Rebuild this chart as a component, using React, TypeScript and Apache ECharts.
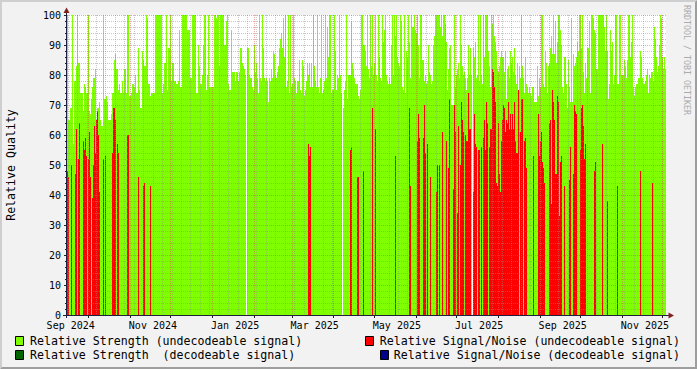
import React, { useEffect, useRef } from 'react';
import * as echarts from 'echarts';

// Relative Strength (undecodeable signal), one value per consolidated sample (null = no data)
const strengthUndecodeable: (number | null)[] = [
  100,65,65,69,69,100,57,78,78,83,
  100,84,84,74,74,74,68,77,76,74,
  74,100,68,67,72,76,79,79,82,65,
  69,69,71,65,63,63,100,72,72,73,
  71,65,65,65,67,74,74,85,87,82,
  82,75,77,74,74,78,74,82,82,74,
  100,100,73,73,74,77,77,76,80,74,
  74,89,75,69,69,88,85,83,83,100,
  99,77,77,73,74,74,74,74,100,100,
  100,100,100,100,100,74,77,84,84,100,
  75,89,89,100,78,84,84,78,78,77,
  77,78,95,76,76,100,100,100,100,100,
  95,95,95,79,79,100,100,100,100,74,
  74,90,83,77,77,80,90,100,100,75,
  80,100,76,76,76,
  76,76,100,100,99,100,100,83,100,100,
  100,100,90,90,98,100,77,75,75,95,
  81,81,81,78,81,81,78,81,89,89,
  84,83,82,80,null,89,89,80,79,79,
  76,75,90,81,84,79,74,100,79,78,
  100,89,79,78,79,78,71,79,78,82,
  79,88,87,80,79,81,83,89,92,94,
  89,99,86,100,76,78,100,74,100,76,
  77,100,79,78,74,78,78,85,75,74,
  85,83,73,75,78,84,80,84,76,84,
  76,100,83,78,76,100,76,74,79,100,
  74,75,78,100,79,96,86,100,100,74,
  75,75,100,88,75,80,79,100,80,74,
  null,69,75,78,100,72,80,80,80,98,
  84,82,79,77,77,77,73,72,75,100,
  100,90,90,88,83,100,82,79,100,83,
  100,80,84,100,80,78,100,86,79,78,
  100,91,95,100,80,78,77,79,77,90,
  100,80,100,93,100,86,84,83,100,98,
  76,75,100,74,88,86,100,91,79,100,
  96,96,100,95,94,100,90,79,100,100,
  85,85,78,80,77,78,90,81,80,77,
  78,90,93,100,100,100,100,100,96,100,
  93,100,100,97,91,75,82,89,90,70,
  70,70,100,76,80,82,84,79,100,90,
  83,80,81,79,75,79,90,80,89,80,
  null,89,86,91,79,80,100,78,100,80,
  77,100,86,100,100,100,88,83,76,100,
  97,100,93,91,88,82,81,83,86,88,
  86,86,81,88,72,82,83,79,88,84,
  86,81,89,80,77,84,74,83,79,100,
  83,79,74,86,77,76,74,76,74,73,
  76,76,71,71,71,83,73,79,76,100,
  100,77,76,88,84,74,83,84,89,93,
  87,100,87,98,84,91,100,100,95,90,
  76,74,86,86,77,69,85,76,71,99,
  71,87,83,84,86,91,88,100,100,89,
  100,81,74,84,79,89,89,98,74,100,
  100,99,95,94,82,82,100,100,100,100,
  100,100,96,88,100,88,72,77,95,88,
  91,77,80,100,100,77,77,100,100,80,
  80,80,85,83,79,85,100,100,86,91,
  100,76,73,76,77,77,79,79,88,86,
  79,77,77,78,80,82,74,80,79,81,
  81,78,96,92,86,81,83,90,100,99,
  86,82,86,82,
];

// Relative Signal/Noise (undecodeable signal): [sample index, value]; all other samples are 0
const snrUndecodeable: [number, number][] = [
  [0,48],[1,46],[4,50],[8,47],[9,62],[11,52],[12,64],[16,58],[17,55],[18,59],[19,53],[21,52],[22,61],
  [23,46],[25,39],[26,50],[27,63],[28,54],[29,65],[30,68],[31,60],[32,41],[36,52],[38,53],[45,54],
  [46,69],[47,69],[48,65],[50,57],[51,54],[60,60],[61,60],[71,46],[76,43],[77,44],[83,43],
  [241,57],[242,53],[243,56],[283,55],[284,56],[290,46],[291,46],[296,48],
  [305,69],[308,62],[328,53],[342,69],[343,43],[350,58],[351,67],[352,59],[356,59],[357,70],[358,54],
  [360,57],[363,46],[369,41],[370,50],[372,50],[375,61],[379,58],[381,49],[382,72],[386,42],[387,70],
  [388,61],[390,34],[391,63],[393,50],[394,71],[395,65],[396,61],[398,60],[399,58],[400,58],[401,74],
  [402,62],[403,62],[406,41],[407,67],[408,57],[409,56],[411,55],[412,55],[414,56],[416,59],[417,65],
  [418,55],[419,71],[420,64],[422,56],[423,62],[424,62],[425,82],[426,81],[427,76],[428,71],[429,44],
  [430,43],[431,64],[432,47],[433,41],[434,58],[435,65],[436,70],[437,69],[438,61],[439,65],[440,64],
  [441,71],[442,62],[443,67],[444,62],
  [445,67],[446,62],[447,71],[448,58],[449,54],[450,54],[451,75],[453,61],[454,72],[455,72],[457,58],
  [458,59],[459,49],[466,53],[471,67],[472,53],[473,58],[474,61],[475,51],[476,49],[477,44],[482,64],
  [483,65],[484,37],[485,75],[486,71],[487,65],[488,47],[489,47],[490,73],[491,71],[492,33],[493,51],
  [494,53],[497,43],[502,45],[503,56],[506,47],[507,70],[508,68],[509,67],[513,55],[514,69],[515,70],
  [516,63],[517,52],[518,57],[527,48],[528,51],[535,57],[540,38],[550,43],[573,48],[585,44],
];

// decodeable-signal series carry no data in this period
const strengthDecodeable: [number, number][] = [];
const snrDecodeable: [number, number][] = [];

const seriesNames = [
  'Relative Strength (undecodeable signal)',
  'Relative Strength  (decodeable signal)',
  'Relative Signal/Noise (undecodeable signal)',
  'Relative Signal/Noise (decodeable signal)',
];
const seriesColors = ['#7FFF00', '#006400', '#FF0000', '#00008B'];

// time base (days since 2024-09-01)
const DAY_MS = 86400000;
const AXIS_EPOCH = Date.UTC(2024, 8, 1);
const toDay = (ms: number) => (ms - AXIS_EPOCH) / DAY_MS;
const FIRST_SAMPLE_DAY = toDay(Date.UTC(2024, 8, 15, 6, 14));
const SAMPLE_DAYS = 17.805 / 24;
const X_MIN = FIRST_SAMPLE_DAY;
const X_MAX = FIRST_SAMPLE_DAY + strengthUndecodeable.length * SAMPLE_DAYS;
const sampleDay = (i: number) => FIRST_SAMPLE_DAY + (i + 0.5) * SAMPLE_DAYS;

const monthLabels = ['Sep 2024', 'Nov 2024', 'Jan 2025', 'Mar 2025', 'May 2025', 'Jul 2025', 'Sep 2025', 'Nov 2025'];
const monthLabelDates: [number, number][] = [[2024, 8], [2024, 10], [2025, 0], [2025, 2], [2025, 4], [2025, 6], [2025, 8], [2025, 10]];
const labelDays = monthLabelDates.map(([y, m]) => toDay(Date.UTC(y, m, 1)) + 17);

const monthStarts: number[] = [];
for (let k = 0; k < 18; k++) {
  const d = toDay(Date.UTC(2024, 8 + k, 1));
  if (d > X_MIN && d < X_MAX) monthStarts.push(d);
}
const weekStarts: number[] = [];
for (let d = toDay(Date.UTC(2024, 8, 16)); d < X_MAX; d += 7) weekStarts.push(d);

const FONT = '"DejaVu Sans Mono", monospace';
const MINOR = 'rgba(143,143,143,0.5)';
const MAJOR = 'rgba(222,79,79,0.5)';

const columnSeries = (name: string, data: [number, number][], color: string) => ({
  type: 'custom',
  name,
  data,
  z: 2,
  clip: true,
  encode: { x: 0, y: 1 },
  renderItem: (_p: any, api: any) => {
    const v = api.value(1);
    if (!(v > 0)) return null;
    const x = api.value(0);
    const p0 = api.coord([x - SAMPLE_DAYS / 2, 0]);
    const p1 = api.coord([x + SAMPLE_DAYS / 2, v]);
    return {
      type: 'rect',
      shape: { x: p0[0], y: p1[1], width: p1[0] - p0[0], height: p0[1] - p1[1] },
      style: { fill: color },
    };
  },
});

const txt = (text: string, x: number, y: number, extra: any = {}, elExtra: any = {}) => ({
  type: 'text',
  x,
  y,
  z: 20,
  ...elExtra,
  style: {
    text,
    fontFamily: FONT,
    fontSize: 11.6,
    fill: '#000',
    align: 'left',
    textAlign: 'left',
    verticalAlign: 'middle',
    textVerticalAlign: 'middle',
    ...extra,
  },
});

const box = (x: number, y: number, color: string) => ({
  type: 'rect',
  z: 20,
  shape: { x, y, width: 8, height: 9 },
  style: { fill: color, stroke: '#000', lineWidth: 1 },
});

export default function App() {
  const ref = useRef<HTMLDivElement>(null);
  useEffect(() => {
    const chart = echarts.init(ref.current!, null, { renderer: 'svg' });
    const greenData: [number, number][] = [];
    strengthUndecodeable.forEach((v, i) => {
      if (v != null) greenData.push([sampleDay(i), v]);
    });
    const redData: [number, number][] = snrUndecodeable.map(([i, v]) => [sampleDay(i), v]);
    const darkGreenData = strengthDecodeable.map(([i, v]) => [sampleDay(i), v] as [number, number]);
    const blueData = snrDecodeable.map(([i, v]) => [sampleDay(i), v] as [number, number]);

    chart.setOption({
      animation: false,
      backgroundColor: '#F2F2F2',
      grid: { left: 67, top: 15, width: 599, height: 300, show: true, backgroundColor: '#FFFFFF', borderWidth: 0 },
      xAxis: [
        {
          type: 'value',
          min: X_MIN,
          max: X_MAX,
          position: 'bottom',
          z: 6,
          axisLine: { show: false },
          axisTick: { show: true, customValues: monthStarts, length: 3, lineStyle: { color: '#1F1F1F' } },
          axisLabel: {
            customValues: labelDays,
            formatter: (v: number) => {
              const i = labelDays.findIndex((d) => Math.abs(d - v) < 0.01);
              return i >= 0 ? monthLabels[i] : '';
            },
            fontFamily: FONT,
            fontSize: 10,
            color: '#000',
            margin: 5,
          },
          splitLine: { show: true, lineStyle: { color: MAJOR, type: [1, 1], width: 1 } },
        },
        {
          type: 'value',
          min: X_MIN,
          max: X_MAX,
          position: 'top',
          z: 5,
          axisLine: { show: false },
          axisTick: { show: false, customValues: weekStarts },
          axisLabel: { show: false },
          splitLine: { show: true, lineStyle: { color: MINOR, type: [1, 1], width: 1 } },
        },
      ],
      yAxis: {
        type: 'value',
        min: 0,
        max: 100,
        interval: 10,
        z: 6,
        axisLine: { show: false },
        axisTick: { show: true, length: 3, lineStyle: { color: '#1F1F1F' } },
        minorTick: { show: true, splitNumber: 5, length: 2, lineStyle: { color: '#1F1F1F' } },
        axisLabel: { fontFamily: FONT, fontSize: 10, color: '#000', margin: 6 },
        splitLine: { show: true, lineStyle: { color: MAJOR, type: [1, 1], width: 1 } },
        minorSplitLine: { show: true, lineStyle: { color: MINOR, type: [1, 1], width: 1 } },
      },
      series: [
        columnSeries(seriesNames[0], greenData, seriesColors[0]),
        columnSeries(seriesNames[2], redData, seriesColors[2]),
        columnSeries(seriesNames[1], darkGreenData, seriesColors[1]),
        columnSeries(seriesNames[3], blueData, seriesColors[3]),
      ],
      graphic: [
        { type: 'polygon', z: 1, shape: { points: [[0, 0], [697, 0], [695, 2], [2, 2], [2, 367], [0, 369]] }, style: { fill: '#CFCFCF' } },
        { type: 'polygon', z: 1, shape: { points: [[697, 0], [697, 369], [0, 369], [2, 367], [695, 367], [695, 2]] }, style: { fill: '#9E9E9E' } },
        { type: 'line', z: 20, shape: { x1: 63, y1: 315.5, x2: 670, y2: 315.5 }, style: { stroke: '#1F1F3F', lineWidth: 1 } },
        { type: 'line', z: 20, shape: { x1: 66.5, y1: 318, x2: 66.5, y2: 12 }, style: { stroke: '#1F1F3F', lineWidth: 1 } },
        { type: 'polygon', z: 21, shape: { points: [[63.5, 13], [69.5, 13], [66.5, 7.5]] }, style: { fill: '#801F1F' } },
        { type: 'polygon', z: 21, shape: { points: [[668.5, 312.5], [668.5, 318.5], [674, 315.5]] }, style: { fill: '#801F1F' } },
        txt('Relative Quality', 11, 165, { align: 'center', textAlign: 'center' }, { rotation: Math.PI / 2 }),
        txt('RRDTOOL / TOBI OETIKER', 686.5, 5, { fontSize: 8.3, fill: '#ABABAB' }, { rotation: -Math.PI / 2 }),
        box(15.5, 336.5, seriesColors[0]),
        txt(seriesNames[0], 30, 341),
        box(15.5, 350.5, seriesColors[1]),
        txt(seriesNames[1], 30, 355),
        box(365.5, 336.5, seriesColors[2]),
        txt(seriesNames[2], 680, 341, { align: 'right', textAlign: 'right' }),
        box(380.5, 350.5, seriesColors[3]),
        txt(seriesNames[3], 680, 355, { align: 'right', textAlign: 'right' }),
      ],
    });
    return () => chart.dispose();
  }, []);
  return <div ref={ref} style={{ position: 'fixed', left: 0, top: 0, width: 697, height: 369 }} />;
}
